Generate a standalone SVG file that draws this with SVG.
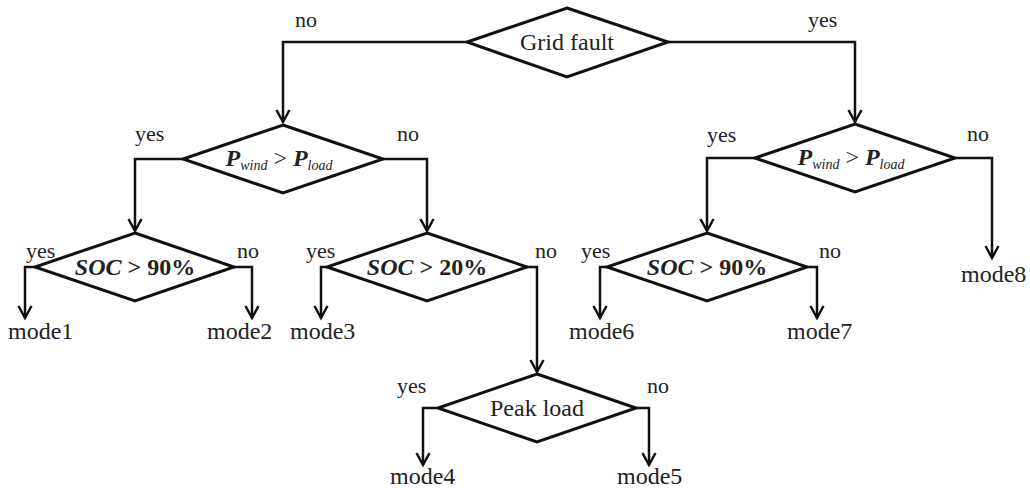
<svg xmlns="http://www.w3.org/2000/svg" width="1030" height="488" viewBox="0 0 1030 488">
  <style>
    .dia { fill: #fff; stroke: #111; stroke-width: 3; stroke-linejoin: miter; }
    .wire { fill: none; stroke: #111; stroke-width: 2.5; }
    text { font-family: "Liberation Serif", "Times New Roman", serif; fill: #222; }
    .lbl { font-size: 22px; }
    .mode { font-size: 24px; }
    .cond { font-size: 24px; text-anchor: middle; }
    .bi { font-weight: bold; font-style: italic; }
    .b { font-weight: bold; }
    .sub { font-size: 14px; font-style: italic; font-weight: normal; }
  </style>
  <defs>
    <marker id="arrow" markerUnits="userSpaceOnUse" markerWidth="20" markerHeight="20" refX="0" refY="0" viewBox="-15 -10 20 20" orient="auto">
      <path d="M-12,-6.5 L0,0 L-12,6.5" fill="none" stroke="#111" stroke-width="2.5"/>
    </marker>
  </defs>
  <rect width="1030" height="488" fill="#fff"/>

  <g id="connectors">
    <path class="wire" d="M467,42 H283 V122" marker-end="url(#arrow)"/>
    <path class="wire" d="M668,42 H855 V122" marker-end="url(#arrow)"/>
    <path class="wire" d="M183,159 H135 V231" marker-end="url(#arrow)"/>
    <path class="wire" d="M383,159 H427 V231" marker-end="url(#arrow)"/>
    <path class="wire" d="M755,158 H707 V231" marker-end="url(#arrow)"/>
    <path class="wire" d="M955,158 H992 V258" marker-end="url(#arrow)"/>
    <path class="wire" d="M35,267 H25 V318" marker-end="url(#arrow)"/>
    <path class="wire" d="M234,267 H252 V318" marker-end="url(#arrow)"/>
    <path class="wire" d="M327,267 H321 V318" marker-end="url(#arrow)"/>
    <path class="wire" d="M527,267 H537 V372" marker-end="url(#arrow)"/>
    <path class="wire" d="M607,267 H600 V318" marker-end="url(#arrow)"/>
    <path class="wire" d="M807,267 H817 V318" marker-end="url(#arrow)"/>
    <path class="wire" d="M438,408 H423 V465" marker-end="url(#arrow)"/>
    <path class="wire" d="M636,408 H649 V465" marker-end="url(#arrow)"/>
  </g>

  <g id="grid-fault">
    <polygon class="dia" points="567,8 668,42 567,77 467,42"/>
    <text class="cond" x="567" y="50">Grid fault</text>
  </g>

  <g id="pwind-left">
    <polygon class="dia" points="283,125 383,159 283,193 183,159"/>
    <text class="cond" x="279" y="166"><tspan class="bi">P</tspan><tspan class="sub" dy="4">wind</tspan><tspan dy="-4"> &gt; </tspan><tspan class="bi">P</tspan><tspan class="sub" dy="4">load</tspan></text>
  </g>

  <g id="pwind-right">
    <polygon class="dia" points="855,124 955,158 855,192 755,158"/>
    <text class="cond" x="851" y="165"><tspan class="bi">P</tspan><tspan class="sub" dy="4">wind</tspan><tspan dy="-4"> &gt; </tspan><tspan class="bi">P</tspan><tspan class="sub" dy="4">load</tspan></text>
  </g>

  <g id="soc90-left">
    <polygon class="dia" points="135,233 234,267 135,301 35,267"/>
    <text class="cond b" x="135" y="275"><tspan class="bi">SOC</tspan> &gt; 90%</text>
  </g>

  <g id="soc20">
    <polygon class="dia" points="427,233 527,267 427,301 327,267"/>
    <text class="cond b" x="427" y="275"><tspan class="bi">SOC</tspan> &gt; 20%</text>
  </g>

  <g id="soc90-right">
    <polygon class="dia" points="707,233 807,267 707,301 607,267"/>
    <text class="cond b" x="707" y="275"><tspan class="bi">SOC</tspan> &gt; 90%</text>
  </g>

  <g id="peak-load">
    <polygon class="dia" points="537,374 636,408 537,442 438,408"/>
    <text class="cond" x="537" y="416">Peak load</text>
  </g>

  <g id="branch-labels" class="lbl">
    <text x="295" y="27">no</text>
    <text x="808" y="27">yes</text>
    <text x="135" y="141">yes</text>
    <text x="397" y="141">no</text>
    <text x="707" y="142">yes</text>
    <text x="967" y="141">no</text>
    <text x="26" y="258">yes</text>
    <text x="237" y="258">no</text>
    <text x="306" y="258">yes</text>
    <text x="535" y="258">no</text>
    <text x="581" y="258">yes</text>
    <text x="819" y="258">no</text>
    <text x="397" y="393">yes</text>
    <text x="647" y="393">no</text>
  </g>

  <g id="modes" class="mode">
    <text x="8" y="339">mode1</text>
    <text x="207" y="339">mode2</text>
    <text x="290" y="339">mode3</text>
    <text x="390" y="484">mode4</text>
    <text x="617" y="484">mode5</text>
    <text x="569" y="339">mode6</text>
    <text x="787" y="339">mode7</text>
    <text x="961" y="282">mode8</text>
  </g>
</svg>
